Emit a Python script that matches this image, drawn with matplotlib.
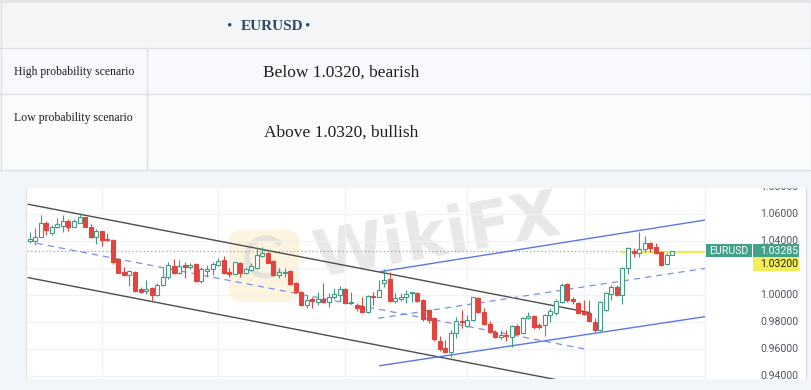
import matplotlib
matplotlib.use("Agg")
import matplotlib.pyplot as plt
from matplotlib.patches import Rectangle, FancyBboxPatch, Arc

# ---------------- data ----------------
opens = [1.0399, 1.0404, 1.0433, 1.0537, 1.0459, 1.0503, 1.0513, 1.0552, 1.0508, 1.0537,
         1.0577, 1.0508, 1.0429, 1.0476, 1.0416, 1.0409, 1.0265, 1.0173, 1.0149, 1.0173,
         1.0042, 1.0032, 1.0050, 1.0000, 1.0074, 1.0136, 1.0216, 1.0161, 1.0223, 1.0206,
         1.0228, 1.0106, 1.0181, 1.0191, 1.0223, 1.0260, 1.0169, 1.0156, 1.0240, 1.0166,
         1.0186, 1.0199, 1.0290, 1.0314, 1.0255, 1.0149, 1.0166, 1.0178, 1.0087, 1.0025,
         0.9926, 0.9968, 0.9950, 0.9968, 0.9950, 0.9983, 1.0000, 1.0042, 0.9938, 0.9926,
         0.9918, 0.9876, 0.9993, 0.9988, 1.0091, 1.0117, 0.9956, 0.9968, 0.9983, 1.0013,
         1.0017, 0.9963, 0.9889, 0.9831, 0.9661, 0.9604, 0.9579, 0.9720, 0.9809, 0.9770,
         0.9814, 0.9976, 0.9876, 0.9785, 0.9727, 0.9686, 0.9703, 0.9690, 0.9770, 0.9716,
         0.9827, 0.9844, 0.9777, 0.9777, 0.9851, 0.9864, 0.9950, 1.0080, 0.9968, 0.9938,
         0.9876, 0.9864, 0.9802, 0.9740, 0.9889, 1.0008, 1.0062, 1.0000, 1.0199, 1.0329,
         1.0314, 1.0340, 1.0389, 1.0355, 1.0322, 1.0230, 1.0297]
highs = [1.0470, 1.0498, 1.0595, 1.0552, 1.0520, 1.0572, 1.0595, 1.0565, 1.0563, 1.0602,
         1.0582, 1.0528, 1.0488, 1.0478, 1.0459, 1.0414, 1.0273, 1.0210, 1.0186, 1.0181,
         1.0057, 1.0112, 1.0057, 1.0087, 1.0199, 1.0248, 1.0265, 1.0260, 1.0248, 1.0240,
         1.0236, 1.0210, 1.0223, 1.0248, 1.0273, 1.0290, 1.0199, 1.0248, 1.0248, 1.0210,
         1.0240, 1.0359, 1.0359, 1.0322, 1.0260, 1.0199, 1.0199, 1.0186, 1.0097, 1.0032,
         1.0000, 0.9988, 1.0025, 1.0087, 1.0017, 1.0050, 1.0067, 1.0050, 1.0025, 0.9938,
         0.9983, 1.0000, 1.0025, 1.0112, 1.0191, 1.0173, 1.0013, 1.0013, 1.0037, 1.0025,
         1.0025, 0.9968, 0.9894, 0.9839, 0.9695, 0.9666, 0.9740, 0.9839, 0.9889, 0.9851,
         0.9988, 0.9983, 0.9901, 0.9809, 0.9740, 0.9740, 0.9740, 0.9777, 0.9785, 0.9839,
         0.9876, 0.9851, 0.9794, 0.9859, 0.9901, 0.9968, 1.0087, 1.0087, 0.9988, 0.9950,
         0.9963, 0.9963, 0.9827, 0.9958, 1.0025, 1.0074, 1.0074, 1.0206, 1.0355, 1.0347,
         1.0470, 1.0438, 1.0396, 1.0384, 1.0329, 1.0310, 1.0329]
lows = [1.0389, 1.0372, 1.0429, 1.0446, 1.0446, 1.0498, 1.0470, 1.0478, 1.0503, 1.0533,
        1.0503, 1.0421, 1.0379, 1.0364, 1.0404, 1.0230, 1.0161, 1.0141, 1.0067, 1.0025,
        1.0013, 1.0008, 0.9956, 0.9993, 1.0067, 1.0117, 1.0156, 1.0154, 1.0124, 1.0191,
        1.0099, 1.0091, 1.0136, 1.0149, 1.0216, 1.0156, 1.0136, 1.0154, 1.0132, 1.0156,
        1.0181, 1.0191, 1.0280, 1.0236, 1.0141, 1.0124, 1.0136, 1.0074, 1.0017, 0.9918,
        0.9901, 0.9906, 0.9926, 0.9943, 0.9913, 0.9968, 0.9958, 0.9933, 0.9933, 0.9884,
        0.9864, 0.9869, 0.9926, 0.9983, 1.0062, 0.9950, 0.9943, 0.9956, 0.9943, 0.9950,
        0.9950, 0.9809, 0.9794, 0.9661, 0.9586, 0.9572, 0.9542, 0.9678, 0.9753, 0.9760,
        0.9809, 0.9864, 0.9777, 0.9720, 0.9678, 0.9671, 0.9661, 0.9616, 0.9703, 0.9710,
        0.9820, 0.9745, 0.9745, 0.9695, 0.9802, 0.9851, 0.9943, 0.9950, 0.9933, 0.9859,
        0.9851, 0.9802, 0.9727, 0.9735, 0.9884, 0.9963, 0.9993, 0.9933, 1.0156, 1.0280,
        1.0280, 1.0322, 1.0322, 1.0305, 1.0216, 1.0225, 1.0295]
closes = [1.0414, 1.0433, 1.0537, 1.0483, 1.0503, 1.0525, 1.0552, 1.0508, 1.0550, 1.0577,
          1.0508, 1.0429, 1.0478, 1.0409, 1.0409, 1.0248, 1.0166, 1.0149, 1.0178, 1.0032,
          1.0025, 1.0042, 1.0000, 1.0074, 1.0136, 1.0223, 1.0161, 1.0216, 1.0210, 1.0223,
          1.0106, 1.0191, 1.0191, 1.0228, 1.0255, 1.0161, 1.0156, 1.0243, 1.0166, 1.0191,
          1.0216, 1.0297, 1.0314, 1.0240, 1.0149, 1.0173, 1.0173, 1.0082, 1.0025, 0.9926,
          0.9963, 0.9956, 0.9968, 0.9950, 0.9983, 1.0008, 1.0042, 0.9938, 0.9946, 0.9906,
          0.9876, 0.9993, 0.9983, 1.0037, 1.0112, 0.9958, 0.9976, 0.9988, 1.0008, 1.0017,
          0.9958, 0.9820, 0.9814, 0.9671, 0.9597, 0.9579, 0.9720, 0.9809, 0.9799, 0.9814,
          0.9983, 0.9872, 0.9785, 0.9727, 0.9686, 0.9703, 0.9695, 0.9770, 0.9710, 0.9827,
          0.9844, 0.9765, 0.9760, 0.9851, 0.9884, 0.9958, 1.0074, 0.9963, 0.9958, 0.9869,
          0.9859, 0.9809, 0.9740, 0.9950, 1.0017, 1.0062, 1.0000, 1.0199, 1.0347, 1.0314,
          1.0340, 1.0389, 1.0347, 1.0310, 1.0223, 1.0297, 1.0328]

price_ticks = [0.94, 0.96, 0.98, 1.00, 1.02, 1.04, 1.06, 1.08]
vgrid_index = [13, 34, 57, 79, 100]

symbol = "EURUSD"
last_price = 1.03285
level_price = 1.03200
level_start_index = 107

# trend channels: (x index pair, price pair)
down_upper = ([-0.25, 101.1], [1.0674, 0.9869])
down_lower = ([-0.25, 101.1], [1.0129, 0.9323])
down_mid = ([1.26, 100.2], [1.0384, 0.9599])
up_upper = ([63.2, 121.9], [1.0173, 1.0557])
up_lower = ([63.2, 121.9], [0.9475, 0.9839])
up_mid = ([62.9, 121.9], [0.9827, 1.0198])

header = "EURUSD"
row_labels = ["High probability scenario", "Low probability scenario"]
row_values = ["Below 1.0320, bearish", "Above 1.0320, bullish"]

# ---------------- figure ----------------
W, H = 812, 390
fig = plt.figure(figsize=(W / 100, H / 100), dpi=100)
fig.patch.set_facecolor('#f2f5fa')

bg = fig.add_axes([0, 0, 1, 1])
bg.set_xlim(0, W)
bg.set_ylim(H, 0)
bg.axis('off')

border = '#dce1e8'
# table
bg.add_patch(Rectangle((0, 0), W, 3, color='#e3e5e9', lw=0))
bg.add_patch(Rectangle((0, 3), W, 45, color='#f4f5f7', lw=0))
bg.add_patch(Rectangle((0, 48), W, 46, color='#f7f9fc', lw=0))
bg.add_patch(Rectangle((0, 94), W, 76, color='#fbfcfe', lw=0))
for yy in (48, 94, 170):
    bg.plot([0, W], [yy, yy], color=border, lw=1.0)
bg.plot([147, 147], [48, 170], color=border, lw=1.0)
bg.plot([0.5, 0.5], [3, 170], color=border, lw=1.0)
bg.plot([W - 0.5, W - 0.5], [3, 170], color=border, lw=1.0)

serif = ['Liberation Serif', 'DejaVu Serif']
hcol = '#2b4a6b'
bg.text(229, 26, '\u2022', ha='center', va='center', fontsize=11, color=hcol, family=serif)
bg.text(272.5, 26, header, ha='center', va='center', fontsize=11, color=hcol,
        family=serif, fontweight='bold')
bg.text(307, 26, '\u2022', ha='center', va='center', fontsize=11, color=hcol, family=serif)

bg.text(14, 72, row_labels[0], ha='left', va='center', fontsize=8.5, color='#1e1e1e', family=serif)
bg.text(14, 118, row_labels[1], ha='left', va='center', fontsize=8.5, color='#1e1e1e', family=serif)
bg.text(341, 73, row_values[0], ha='center', va='center', fontsize=12.5, color='#1e1e1e', family=serif)
bg.text(341, 133, row_values[1], ha='center', va='center', fontsize=12.5, color='#1e1e1e', family=serif)

# chart panel
bg.add_patch(Rectangle((27, 188), 779, 191, color='white', lw=0, zorder=1))
bg.plot([26.5, 26.5], [188, 379], color='#e3e6eb', lw=1.0, zorder=2)

# watermark logo + text
bg.add_patch(FancyBboxPatch((229, 230), 70, 72, boxstyle='round,pad=0,rounding_size=12',
                            facecolor='#fdf1d6', edgecolor='none', alpha=0.75, zorder=2))
bg.add_patch(Arc((266, 257), 38, 38, theta1=40, theta2=320, color='#d6d6d6', lw=4, alpha=0.6, zorder=2))
bg.text(437, 238, 'WikiFX', ha='center', va='center', fontsize=46, fontweight='bold',
        color='#c4c4c4', alpha=0.38, rotation=10, family='DejaVu Sans', zorder=2)

# ---------------- candles ----------------
ymin, ymax = 0.9376, 1.0795
ax = fig.add_axes([27 / W, 11 / H, 678 / W, 191 / H])
ax.set_facecolor('none')
ax.set_xlim(-0.49, 121.9)
ax.set_ylim(ymin, ymax)
for s in ax.spines.values():
    s.set_visible(False)
ax.spines['right'].set_visible(True)
ax.spines['right'].set_color('#eef0f3')
ax.set_xticks([])
ax.set_yticks([])

grid_c = '#f0f2f5'
for t in price_ticks:
    ax.axhline(t, color=grid_c, lw=0.9, zorder=0)
for v in vgrid_index:
    ax.axvline(v, color=grid_c, lw=0.9, zorder=0)

green = '#3f9b82'
red = '#e0453f'
w = 0.72
for i, (o, h, l, c) in enumerate(zip(opens, highs, lows, closes)):
    up = c >= o
    col = green if up else red
    ax.vlines(i, l, h, color=col, lw=0.8, zorder=3)
    bot = min(o, c)
    hgt = max(abs(c - o), 0.0007)
    ax.add_patch(Rectangle((i - w / 2, bot), w, hgt, facecolor='white' if up else red,
                           edgecolor=col, lw=0.8, zorder=4))

# channels
gray = '#4d4d4d'
blue = '#5a78e0'
ax.plot(*down_upper, color=gray, lw=1.0, zorder=2)
ax.plot(*down_lower, color=gray, lw=1.0, zorder=2)
ax.plot(*down_mid, color='#7d8fe6', lw=0.9, ls=(0, (5, 4)), zorder=2)
ax.plot(*up_upper, color=blue, lw=1.0, zorder=2)
ax.plot(*up_lower, color=blue, lw=1.0, zorder=2)
ax.plot(*up_mid, color='#7d8fe6', lw=0.9, ls=(0, (5, 4)), zorder=2)

# price lines
ax.axhline(last_price, color='#9aa0a8', lw=0.9, ls=(0, (1, 2)), zorder=1)
ax.plot([level_start_index, 121.9], [level_price, level_price], color='#f1ea4c', lw=1.6, zorder=1)

# ---------------- price scale ----------------
axp = fig.add_axes([705 / W, 11 / H, 101 / W, 191 / H])
axp.set_facecolor('none')
axp.set_xlim(0, 1)
axp.set_ylim(ymin, ymax)
axp.set_xticks([])
axp.set_yticks([])
for s in axp.spines.values():
    s.set_visible(False)
axp.spines['right'].set_visible(True)
axp.spines['right'].set_color('#d3d7dd')

lab_font = ['Roboto', 'DejaVu Sans']
for t in price_ticks:
    axp.text(0.545, t, f'{t:.5f}', ha='left', va='center', fontsize=7.6, color='#4f5561',
             family=lab_font, clip_on=True, zorder=1)

bh = 0.0094
axp.add_patch(Rectangle((0.01, last_price - bh / 2), 0.452, bh, facecolor='#43a08a',
                        edgecolor='none', zorder=3, clip_on=False))
axp.add_patch(Rectangle((0.472, last_price - bh / 2), 0.462, bh, facecolor='#43a08a',
                        edgecolor='none', zorder=3, clip_on=False))
axp.add_patch(Rectangle((0.472, last_price - bh / 2 - bh * 1.06), 0.462, bh * 1.06,
                        facecolor='#f3ee55', edgecolor='none', zorder=3, clip_on=False))
axp.text(0.236, last_price, symbol, ha='center', va='center', fontsize=7.6, color='white',
         family=lab_font, zorder=4)
axp.text(0.55, last_price, f'{last_price:.5f}', ha='left', va='center', fontsize=7.6,
         color='white', family=lab_font, zorder=4)
axp.text(0.55, last_price - bh / 2 - bh * 0.53, f'{level_price:.5f}', ha='left', va='center',
         fontsize=7.6, color='#222222', family=lab_font, zorder=4)

fig.savefig('out.png', dpi=100, facecolor=fig.get_facecolor())
